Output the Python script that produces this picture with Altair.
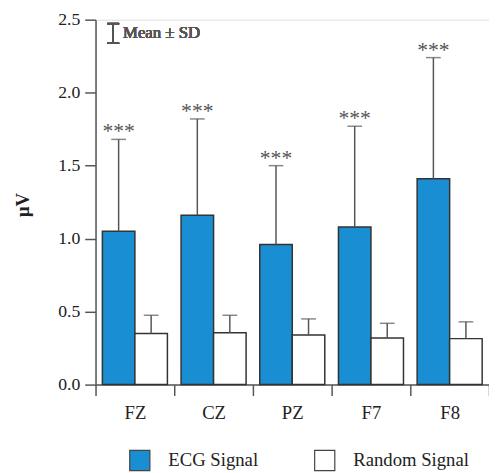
import altair as alt
import pandas as pd

sites = ["FZ", "CZ", "PZ", "F7", "F8"]
series = ["ECG Signal", "Random Signal"]
ecg_mean = [1.05, 1.16, 0.96, 1.08, 1.41]
ecg_sd = [0.63, 0.66, 0.54, 0.69, 0.83]
rnd_mean = [0.35, 0.355, 0.34, 0.32, 0.315]
rnd_sd = [0.125, 0.12, 0.11, 0.10, 0.115]
stars = ["***", "***", "***", "***", "***"]

rows = []
for i, s in enumerate(sites):
    rows.append({"site": s, "series": series[0], "mean": ecg_mean[i],
                 "top": ecg_mean[i] + ecg_sd[i], "star": stars[i]})
    rows.append({"site": s, "series": series[1], "mean": rnd_mean[i],
                 "top": rnd_mean[i] + rnd_sd[i], "star": ""})
df = pd.DataFrame(rows)

FONT = "Liberation Serif"

x = alt.X("site:N", sort=sites, title=None,
          scale=alt.Scale(paddingInner=0, paddingOuter=0),
          axis=alt.Axis(labelAngle=0, tickBand="extent", tickSize=11,
                        labelPadding=8, labelFont=FONT, labelFontSize=19,
                        labelFontWeight="normal",
                        labelColor="#222", domainColor="#555", domainWidth=1.5,
                        tickColor="#555", tickWidth=1.5))
xo = alt.XOffset("series:N", sort=series,
                 scale=alt.Scale(paddingInner=0, paddingOuter=0.21))
y_scale = alt.Scale(domain=[0, 2.5], nice=False)

bars = alt.Chart(df).mark_bar(stroke="#333", strokeWidth=1.5).encode(
    x=x, xOffset=xo,
    y=alt.Y("mean:Q", scale=y_scale, title="μV",
            axis=alt.Axis(values=[0, 0.5, 1.0, 1.5, 2.0, 2.5], format=".1f",
                          tickSize=11, labelPadding=5, labelFont=FONT,
                          labelFontSize=18, labelColor="#222", grid=False,
                          domainColor="#555", domainWidth=1.5, tickColor="#555",
                          tickWidth=1.5, titleFont=FONT, titleFontSize=19,
                          titleFontWeight="bold", titleColor="#222",
                          titleAngle=-90, titleX=-74, titleY=188,
                          titleAlign="center", titleBaseline="middle")),
    color=alt.Color("series:N", sort=series,
                    scale=alt.Scale(domain=series, range=["#1a8ed2", "#ffffff"]),
                    legend=alt.Legend(title=None, orient="none", direction="horizontal",
                                      legendX=34, legendY=437, symbolType="square",
                                      symbolSize=420, symbolStrokeColor="#444",
                                      symbolStrokeWidth=1.2, labelFont=FONT,
                                      labelFontSize=19, labelColor="#222",
                                      labelOffset=18, columnPadding=54,
                                      labelLimit=250))
)

err = alt.Chart(df).mark_rule(color="#555", strokeWidth=1.5).encode(
    x=x, xOffset=xo, y="mean:Q", y2="top:Q")
caps = alt.Chart(df).mark_tick(color="#555", thickness=1.5, size=15).encode(
    x=x, xOffset=xo, y=alt.Y("top:Q", scale=y_scale))
star_txt = alt.Chart(df).mark_text(font=FONT, fontSize=22, fontWeight="normal",
                                   color="#555", baseline="bottom", dy=4).encode(
    x=x, xOffset=xo, y="top:Q", text="star:N")

key_rule = alt.Chart(df).mark_rule(color="#555", strokeWidth=1.5).encode(
    x=alt.value(18), y=alt.value(4), y2=alt.value(24))
key_top = alt.Chart(df).mark_rule(color="#555", strokeWidth=1.5).encode(
    x=alt.value(12), x2=alt.value(24), y=alt.value(4))
key_bot = alt.Chart(df).mark_rule(color="#555", strokeWidth=1.5).encode(
    x=alt.value(12), x2=alt.value(24), y=alt.value(24))
key_txt = alt.Chart(df).mark_text(font=FONT, fontSize=17, fontWeight="normal",
                                  color="#555", align="left", baseline="middle").encode(
    x=alt.value(28), y=alt.value(14), text=alt.value("Mean ±  SD"))

chart = alt.layer(bars, err, caps, star_txt, key_rule, key_top, key_bot, key_txt).properties(
    width=400, height=371,
    autosize=alt.AutoSizeParams(type="none"),
    padding={"left": 89, "top": 8, "right": 0, "bottom": 86},
).configure_view(stroke=None).configure(background="white")

chart.save("out.html", embed_options={"renderer": "svg", "actions": False})
